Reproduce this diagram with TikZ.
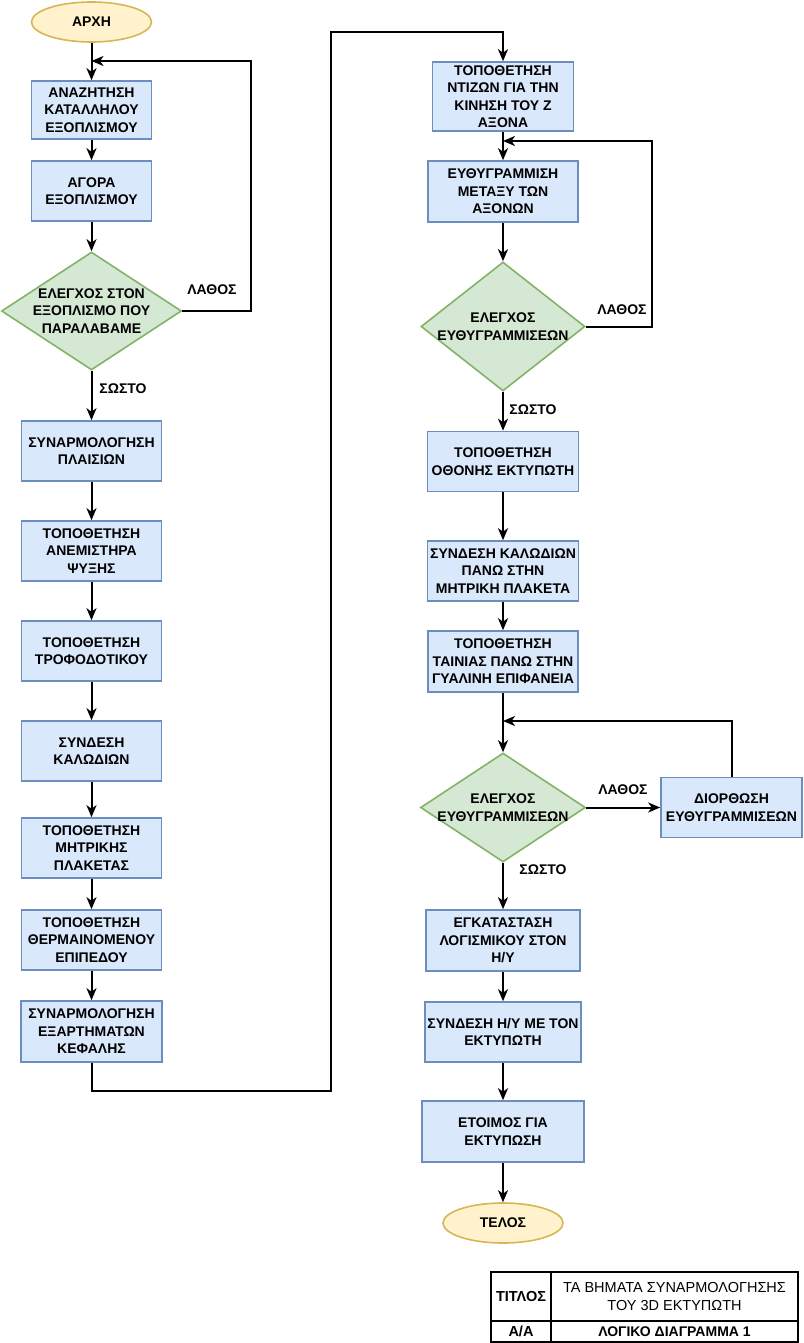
\documentclass[tikz,border=0pt]{standalone}
\usepackage{fontspec}
\setmainfont{Liberation Sans}
\usetikzlibrary{shapes.geometric,arrows.meta}
\definecolor{bfill}{HTML}{DAE8FC}
\definecolor{bdraw}{HTML}{6C8EBF}
\definecolor{gfill}{HTML}{D5E8D4}
\definecolor{gdraw}{HTML}{82B366}
\definecolor{yfill}{HTML}{FFF2CC}
\definecolor{ydraw}{HTML}{D6B656}
\tikzset{
  txt/.style={font=\bfseries\fontsize{14}{17.5}\selectfont, align=center, inner sep=0pt},
  stepbox/.style={txt, draw=bdraw, fill=bfill, line width=1.6pt, minimum width=#1, minimum height=60pt},
  stepbox/.default=140pt,
  dec/.style={shape=diamond, draw=gdraw, fill=gfill, line width=1.6pt, inner sep=0pt},
  term/.style={txt, shape=ellipse, draw=ydraw, fill=yfill, line width=1.6pt, minimum width=120pt, minimum height=40pt},
  arr/.style={line width=2pt, -{Stealth[length=12pt,width=10pt,inset=3.5pt]}},
  lab/.style={txt},
  cell/.style={draw, line width=2pt, inner sep=0pt, align=center, font=\fontsize{14.5}{18}\selectfont}
}
\begin{document}
\begin{tikzpicture}[x=1pt,y=-1pt]
\useasboundingbox (0,0) rectangle (803,1343);
% left column
\node[term] (start) at (91.5,22) {ΑΡΧΗ};
\node[stepbox=120pt, minimum height=58pt] (b1) at (91.5,110) {ΑΝΑΖΗΤΗΣΗ\\ΚΑΤΑΛΛΗΛΟΥ\\ΕΞΟΠΛΙΣΜΟΥ};
\node[stepbox=120pt] (b2) at (91.5,191) {ΑΓΟΡΑ\\ΕΞΟΠΛΙΣΜΟΥ};
\node[dec, minimum width=180pt, minimum height=118pt] (d1) at (91.5,311) {};
\node[txt] (d1t) at (91.5,311) {ΕΛΕΓΧΟΣ ΣΤΟΝ\\ΕΞΟΠΛΙΣΜΟ ΠΟΥ\\ΠΑΡΑΛΑΒΑΜΕ};
\node[stepbox] (b3) at (91.5,451) {ΣΥΝΑΡΜΟΛΟΓΗΣΗ\\ΠΛΑΙΣΙΩΝ};
\node[stepbox] (b4) at (91.5,551) {ΤΟΠΟΘΕΤΗΣΗ\\ΑΝΕΜΙΣΤΗΡΑ\\ΨΥΞΗΣ};
\node[stepbox] (b5) at (91.5,651) {ΤΟΠΟΘΕΤΗΣΗ\\ΤΡΟΦΟΔΟΤΙΚΟΥ};
\node[stepbox] (b6) at (91.5,751) {ΣΥΝΔΕΣΗ\\ΚΑΛΩΔΙΩΝ};
\node[stepbox] (b7) at (91.5,848) {ΤΟΠΟΘΕΤΗΣΗ\\ΜΗΤΡΙΚΗΣ\\ΠΛΑΚΕΤΑΣ};
\node[stepbox] (b8) at (91.5,940) {ΤΟΠΟΘΕΤΗΣΗ\\ΘΕΡΜΑΙΝΟΜΕΝΟΥ\\ΕΠΙΠΕΔΟΥ};
\node[stepbox=141pt, minimum height=61pt] (b9) at (91.5,1031.5) {ΣΥΝΑΡΜΟΛΟΓΗΣΗ\\ΕΞΑΡΤΗΜΑΤΩΝ\\ΚΕΦΑΛΗΣ};
% right column
\node[stepbox=141pt, minimum height=69pt] (b10) at (503,96.5) {ΤΟΠΟΘΕΤΗΣΗ\\ΝΤΙΖΩΝ ΓΙΑ ΤΗΝ\\ΚΙΝΗΣΗ ΤΟΥ Ζ\\ΑΞΟΝΑ};
\node[stepbox=150pt, minimum height=61pt] (b11) at (503,191.5) {ΕΥΘΥΓΡΑΜΜΙΣΗ\\ΜΕΤΑΞΥ ΤΩΝ\\ΑΞΟΝΩΝ};
\node[dec, minimum width=164pt, minimum height=129pt] (d2) at (503,326.5) {};
\node[txt] (d2t) at (503,326.5) {ΕΛΕΓΧΟΣ\\ΕΥΘΥΓΡΑΜΜΙΣΕΩΝ};
\node[stepbox=151pt] (b12) at (503,461.5) {ΤΟΠΟΘΕΤΗΣΗ\\ΟΘΟΝΗΣ ΕΚΤΥΠΩΤΗ};
\node[stepbox=151pt] (b13) at (503,571) {ΣΥΝΔΕΣΗ ΚΑΛΩΔΙΩΝ\\ΠΑΝΩ ΣΤΗΝ\\ΜΗΤΡΙΚΗ ΠΛΑΚΕΤΑ};
\node[stepbox=150pt, minimum height=61pt] (b14) at (503,661.5) {ΤΟΠΟΘΕΤΗΣΗ\\ΤΑΙΝΙΑΣ ΠΑΝΩ ΣΤΗΝ\\ΓΥΑΛΙΝΗ ΕΠΙΦΑΝΕΙΑ};
\node[dec, minimum width=165pt, minimum height=109pt] (d3) at (503,807.5) {};
\node[txt] (d3t) at (503,807.5) {ΕΛΕΓΧΟΣ\\ΕΥΘΥΓΡΑΜΜΙΣΕΩΝ};
\node[stepbox=141pt] (b18) at (731.5,807.5) {ΔΙΟΡΘΩΣΗ\\ΕΥΘΥΓΡΑΜΜΙΣΕΩΝ};
\node[stepbox=154pt, minimum height=61pt] (b15) at (503,940.5) {ΕΓΚΑΤΑΣΤΑΣΗ\\ΛΟΓΙΣΜΙΚΟΥ ΣΤΟΝ\\Η/Υ};
\node[stepbox=156pt] (b16) at (503,1032) {ΣΥΝΔΕΣΗ Η/Υ ΜΕ ΤΟΝ\\ΕΚΤΥΠΩΤΗ};
\node[stepbox=162pt, minimum height=61pt] (b17) at (503,1131.5) {ΕΤΟΙΜΟΣ ΓΙΑ\\ΕΚΤΥΠΩΣΗ};
\node[term] (end) at (503,1223) {ΤΕΛΟΣ};
% labels
\node[lab] (l1) at (212,290) {ΛΑΘΟΣ};
\node[lab] (s1) at (123,389) {ΣΩΣΤΟ};
\node[lab] (l2) at (622,310) {ΛΑΘΟΣ};
\node[lab] (s2) at (533,410) {ΣΩΣΤΟ};
\node[lab] (l3) at (623,790) {ΛΑΘΟΣ};
\node[lab] (s3) at (543,870) {ΣΩΣΤΟ};
% connectors left
\draw[arr] (start) -- (b1);
\draw[arr] (b1) -- (b2);
\draw[arr] (b2) -- (d1);
\coordinate (j1) at (91.5,61);
\coordinate (c1) at (251,61);
\draw[arr] (d1.east) -| (c1) -- (j1);
\draw[arr] (d1) -- (b3);
\draw[arr] (b3) -- (b4);
\draw[arr] (b4) -- (b5);
\draw[arr] (b5) -- (b6);
\draw[arr] (b6) -- (b7);
\draw[arr] (b7) -- (b8);
\draw[arr] (b8) -- (b9);
\coordinate (m1) at (331,1091);
\coordinate (m2) at (331,32);
\draw[arr] (b9.south) |- (m1) -- (m2) -| (b10.north);
% connectors right
\draw[arr] (b10) -- (b11);
\coordinate (j2) at (503,141);
\coordinate (c2) at (652,141);
\draw[arr] (d2.east) -| (c2) -- (j2);
\draw[arr] (b11) -- (d2);
\draw[arr] (d2) -- (b12);
\draw[arr] (b12) -- (b13);
\draw[arr] (b13) -- (b14);
\draw[arr] (b14) -- (d3);
\coordinate (j3) at (503,721);
\draw[arr] (b18.north) |- (j3);
\draw[arr] (d3.east) -- (b18.west);
\draw[arr] (d3) -- (b15);
\draw[arr] (b15) -- (b16);
\draw[arr] (b16) -- (b17);
\draw[arr] (b17) -- (end);
% title block
\node[cell, minimum width=60pt, minimum height=49pt, font=\bfseries\fontsize{14.5}{18}\selectfont] (t11) at (521,1296.5) {ΤΙΤΛΟΣ};
\node[cell, minimum width=247pt, minimum height=49pt] (t12) at (674.5,1296.5) {ΤΑ ΒΗΜΑΤΑ ΣΥΝΑΡΜΟΛΟΓΗΣΗΣ\\ΤΟΥ 3D ΕΚΤΥΠΩΤΗ};
\node[cell, minimum width=60pt, minimum height=21pt, font=\bfseries\fontsize{14.5}{18}\selectfont] (t21) at (521,1331.5) {Α/Α};
\node[cell, minimum width=247pt, minimum height=21pt, font=\bfseries\fontsize{14}{18}\selectfont] (t22) at (674.5,1331.5) {ΛΟΓΙΚΟ ΔΙΑΓΡΑΜΜΑ 1};
\end{tikzpicture}
\end{document}
